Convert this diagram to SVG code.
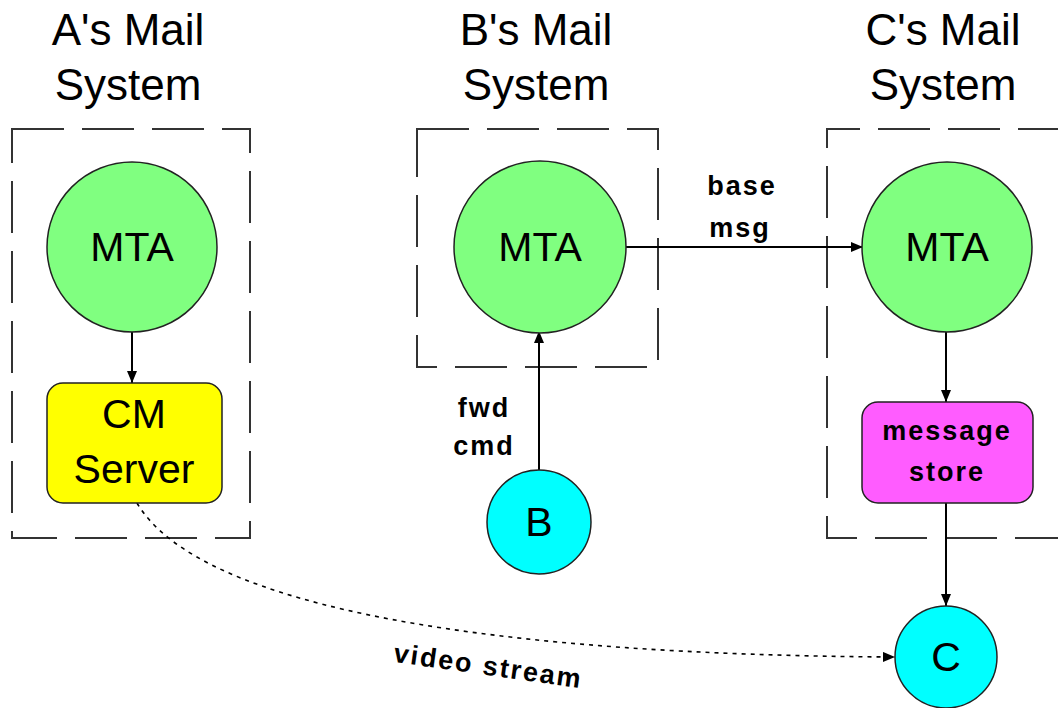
<svg xmlns="http://www.w3.org/2000/svg" width="1058" height="708" viewBox="0 0 1058 708">
<defs>
<style>
.title{font-family:"Liberation Sans",Arial,sans-serif;font-size:44px;fill:#000;text-anchor:middle}
.big{font-family:"Liberation Sans",Arial,sans-serif;font-size:41px;fill:#000;text-anchor:middle}
.lbl{font-family:"Liberation Sans",Arial,sans-serif;font-size:27px;font-weight:bold;letter-spacing:2px;fill:#000;text-anchor:middle}
.sys{fill:none;stroke:#333;stroke-width:2;stroke-dasharray:52 18}
.mta{fill:#80FF80;stroke:#222;stroke-width:1.5}
.cli{fill:#00FFFF;stroke:#222;stroke-width:1.5}
.edge{fill:none;stroke:#000;stroke-width:2}
.dot{fill:none;stroke:#000;stroke-width:1.6;stroke-dasharray:4 5}
</style>
<marker id="arr" viewBox="0 0 12 10" refX="12" refY="5" markerWidth="12" markerHeight="10" markerUnits="userSpaceOnUse" orient="auto">
<path d="M0,0 L12,5 L0,10 z" fill="#000"/>
</marker>
</defs>
<rect width="1058" height="708" fill="#fff"/>

<g id="systemA">
<text class="title" x="128" y="45">A's Mail</text>
<text class="title" x="128" y="100">System</text>
<rect class="sys" x="12" y="129" width="238" height="409"/>
</g>
<g id="systemB">
<text class="title" x="536" y="45">B's Mail</text>
<text class="title" x="536" y="100">System</text>
<rect class="sys" x="417" y="129" width="241" height="238"/>
</g>
<g id="systemC">
<text class="title" x="943" y="45">C's Mail</text>
<text class="title" x="943" y="100">System</text>
<path class="sys" d="M1070,129 H827 V538 H1070"/>
</g>

<g id="connectors">
<line class="edge" x1="132" y1="331" x2="132" y2="383" marker-end="url(#arr)"/>
<line class="edge" x1="539" y1="471" x2="539" y2="331" marker-end="url(#arr)"/>
<line class="edge" x1="626" y1="247" x2="863" y2="247" marker-end="url(#arr)"/>
<line class="edge" x1="946" y1="331" x2="946" y2="402" marker-end="url(#arr)"/>
<line class="edge" x1="946" y1="503" x2="946" y2="606" marker-end="url(#arr)"/>
<path class="dot" d="M137,503 C200,610 500,655 895,657" marker-end="url(#arr)"/>
<text class="lbl" x="742" y="195">base</text>
<text class="lbl" x="740" y="237">msg</text>
<text class="lbl" x="484" y="417">fwd</text>
<text class="lbl" x="484" y="455">cmd</text>
<text class="lbl" x="487" y="675" transform="rotate(8 487 675)">video stream</text>
</g>

<g id="mtaA">
<circle class="mta" cx="132" cy="247" r="85"/>
<text class="big" x="132" y="261">MTA</text>
</g>
<g id="cmServer">
<rect x="47" y="383" width="175" height="120" rx="16" fill="#FFFF00" stroke="#222" stroke-width="1.5"/>
<text class="big" x="134" y="428">CM</text>
<text class="big" x="134" y="483">Server</text>
</g>
<g id="mtaB">
<circle class="mta" cx="540" cy="247" r="86"/>
<text class="big" x="540" y="261">MTA</text>
</g>
<g id="userB">
<circle class="cli" cx="539" cy="522" r="52"/>
<text class="big" x="539" y="536">B</text>
</g>
<g id="mtaC">
<circle class="mta" cx="947" cy="247" r="85"/>
<text class="big" x="947" y="261">MTA</text>
</g>
<g id="messageStore">
<rect x="862" y="402" width="171" height="101" rx="16" fill="#FF5CFF" stroke="#222" stroke-width="1.5"/>
<text class="lbl" x="947" y="440">message</text>
<text class="lbl" x="947" y="481">store</text>
</g>
<g id="userC">
<circle class="cli" cx="946" cy="657" r="51"/>
<text class="big" x="946" y="671">C</text>
</g>
</svg>
